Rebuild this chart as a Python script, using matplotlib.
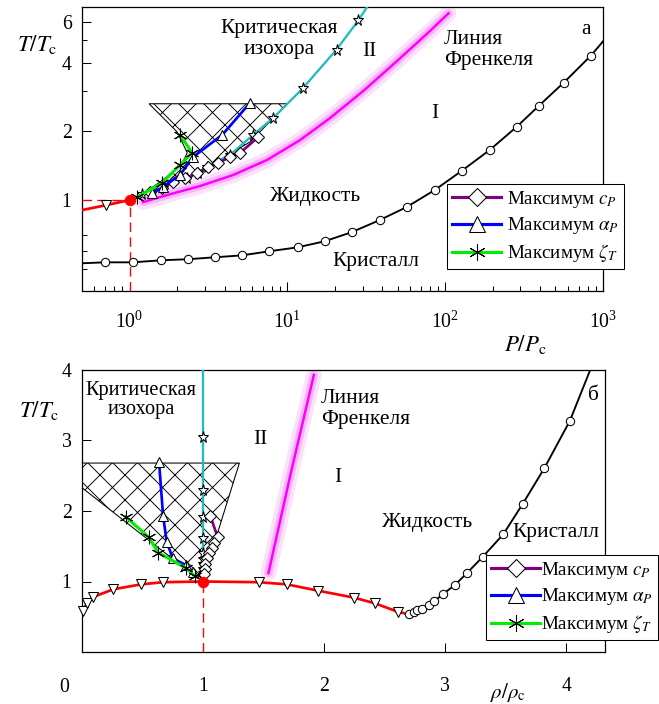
import matplotlib.pyplot as plt
from matplotlib.lines import Line2D
from matplotlib.patches import Polygon
from matplotlib.ticker import FixedLocator, NullFormatter, LogLocator, FixedFormatter

# ---------------------------------------------------------------
# (a) P-T plane, log-log
# melting line
P_melt = [0.5, 0.699, 1.05, 1.585, 2.35, 3.49, 5.18, 7.69, 11.6, 17.2, 25.5,
          38.4, 57.0, 85.8, 127, 192, 284, 393, 565, 839, 1000]
T_melt = [0.529, 0.534, 0.534, 0.545, 0.551, 0.562, 0.573, 0.597, 0.621, 0.660, 0.723,
          0.817, 0.932, 1.106, 1.341, 1.659, 2.093, 2.59, 3.27, 4.29, 4.95]
# boiling line up to the critical point
P_boil = [0.5, 0.71, 1.0]
T_boil = [0.904, 0.95, 1.0]
# critical isochore (stars)
P_iso = [1.0, 1.2, 1.63, 2.32, 2.7, 3.1, 4.35, 6.08, 8.15, 12.5, 20.5, 28.2, 32.0]
T_iso = [1.0, 1.06, 1.16, 1.25, 1.32, 1.40, 1.58, 1.93, 2.29, 3.08, 4.56, 6.12, 7.0]
# maxima of c_P, alpha_P, zeta_T
P_cp = [1.35, 1.61, 1.89, 2.25, 2.68, 3.15, 3.65, 4.35, 5.03, 6.55]
T_cp = [1.084, 1.129, 1.20, 1.25, 1.31, 1.40, 1.455, 1.545, 1.61, 1.89]
P_ap = [1.39, 1.63, 2.09, 2.53, 3.87, 5.82]
T_ap = [1.07, 1.14, 1.29, 1.545, 1.93, 2.67]
P_zt = [1.12, 1.61, 2.09, 2.49, 2.09]
T_zt = [1.03, 1.19, 1.425, 1.61, 1.93]
# Frenkel line
P_fr = [1.22, 1.73, 2.8, 4.54, 7.46, 12.1, 18.7, 30.4, 49.9, 80.9, 105]
T_fr = [0.98, 1.052, 1.152, 1.288, 1.50, 1.835, 2.29, 3.01, 4.08, 5.53, 6.57]
# hatched region
P_hatch = [1.33, 10.0, 5.82, 3.92, 2.68, 1.89, 1.35, 1.12, 1.25, 1.56, 1.89, 2.18, 2.32, 2.15, 2.0]
T_hatch = [2.64, 2.64, 1.80, 1.53, 1.31, 1.20, 1.08, 1.03, 1.08, 1.20, 1.33, 1.47, 1.61, 1.80, 1.99]

# ---------------------------------------------------------------
# (b) rho-T plane
rho_boil = [0.005, 0.04, 0.09, 0.26, 0.49, 0.67, 1.0, 1.46, 1.69, 1.95, 2.25, 2.42, 2.61, 2.66]
T_boil_b = [0.58, 0.69, 0.78, 0.89, 0.96, 0.99, 1.0, 0.99, 0.96, 0.87, 0.77, 0.69, 0.57, 0.55]
rho_melt = [2.70, 2.74, 2.77, 2.81, 2.87, 2.91, 2.98, 3.08, 3.18, 3.31, 3.48, 3.64, 3.82, 4.03, 4.20]
T_melt_b = [0.54, 0.57, 0.59, 0.61, 0.67, 0.72, 0.82, 0.95, 1.12, 1.35, 1.67, 2.10, 2.61, 3.28, 4.01]
rho_iso = [1.0, 1.0, 1.0, 1.0, 1.0, 1.0, 1.0, 1.0, 1.0, 1.0, 1.0, 1.0]
T_iso_b = [1.0, 1.06, 1.12, 1.18, 1.25, 1.32, 1.40, 1.62, 1.91, 2.30, 3.05, 4.0]
rho_cp = [1.06, 1.12, 1.09, 1.07, 1.05, 1.03, 1.02, 1.02, 1.01]
T_cp_b = [1.93, 1.63, 1.55, 1.48, 1.41, 1.33, 1.25, 1.18, 1.11]
rho_ap = [0.636, 0.67, 0.70, 0.75, 0.86, 0.92]
T_ap_b = [2.70, 1.93, 1.56, 1.33, 1.23, 1.13]
rho_zt = [0.36, 0.55, 0.63, 0.86, 0.93]
T_zt_b = [1.92, 1.63, 1.41, 1.19, 1.08]
rho_fr = [1.54, 1.725, 1.915]
T_fr_b = [1.12, 2.54, 3.93]
rho_hatch = [0.0, 1.30, 1.0, 0.95, 0.0]
T_hatch_b = [2.68, 2.68, 1.03, 1.05, 2.33]

RED = '#ff0000'
CYAN = '#22bcbc'
MAG = '#ff00ff'
PURPLE = '#800080'
BLUE = '#0000ff'
GREEN = '#00ee00'
ASTER = (6, 2, 0)

plt.rcParams['font.family'] = ['Liberation Serif', 'DejaVu Serif']
plt.rcParams['mathtext.fontset'] = 'stix'
plt.rcParams['hatch.linewidth'] = 0.9

W, H, DPI = 659, 704, 75
fig = plt.figure(figsize=(W / DPI, H / DPI), dpi=DPI)

FS = 20.5      # region labels
FS_TICK = 19
FS_AX = 22
FS_LEG = 18.3


def fx(x):
    return x / W


def fy(y):
    return 1 - y / H


open_mk = dict(mfc='white', mec='black', mew=1.0)

# ================= panel a =================
axA = fig.add_axes([fx(82), fy(291), fx(603) - fx(82), fy(7) - fy(291)])
axA.set_xscale('log')
axA.set_yscale('log')

axA.add_patch(Polygon(list(zip(P_hatch, T_hatch)), closed=True, facecolor='none',
                      edgecolor='black', hatch='x', lw=1.0, zorder=1))

axA.plot(P_fr, T_fr, color='#fde0fd', lw=15, solid_capstyle='round', zorder=2)
axA.plot(P_fr, T_fr, color='#f7b8f7', lw=8, solid_capstyle='round', zorder=2)
axA.plot(P_fr, T_fr, color=MAG, lw=2.4, zorder=3)

axA.plot([0.5, 1.0], [1.0, 1.0], color=RED, lw=1.3, ls=(0, (7, 4)), zorder=3)
axA.plot([1.0, 1.0], [0.4, 1.0], color=RED, lw=1.3, ls=(0, (7, 4)), zorder=3)
axA.plot(P_boil, T_boil, color=RED, lw=2.6, zorder=3)
axA.plot(P_boil[1:2], T_boil[1:2], 'v', ms=9, zorder=5, **open_mk)

axA.plot(P_melt, T_melt, color='black', lw=1.8, marker='o', ms=8,
         markevery=list(range(1, len(P_melt) - 1)), zorder=4, **open_mk)

axA.plot(P_iso, T_iso, color=CYAN, lw=2.2, marker='*', ms=11,
         markevery=list(range(1, len(P_iso) - 1)), zorder=4, **open_mk)
axA.plot(P_cp, T_cp, color=PURPLE, lw=2.6, marker='D', ms=7.5, zorder=5, **open_mk)
axA.plot(P_ap, T_ap, color=BLUE, lw=2.6, marker='^', ms=10, zorder=5, **open_mk)
axA.plot(P_zt, T_zt, color=GREEN, lw=3, marker=ASTER, ms=13, mec='black', mew=1.0, zorder=5)
axA.plot([1.0], [1.0], 'o', color=RED, ms=10, zorder=6)

axA.set_xlim(0.5, 1000)
axA.set_ylim(0.4, 7.0)
axA.xaxis.set_major_locator(LogLocator(base=10))
axA.xaxis.set_minor_locator(LogLocator(base=10, subs=range(2, 10)))
axA.xaxis.set_minor_formatter(NullFormatter())
axA.yaxis.set_major_locator(FixedLocator([1, 2, 4, 6]))
axA.yaxis.set_major_formatter(FixedFormatter(['1', '2', '4', '6']))
axA.yaxis.set_minor_locator(FixedLocator([0.5, 0.6, 0.7, 3, 5]))
axA.yaxis.set_minor_formatter(NullFormatter())
axA.tick_params(which='major', direction='in', length=8.5, width=1.0, labelsize=FS_TICK)
axA.tick_params(which='minor', direction='in', length=4.5, width=1.0)
axA.tick_params(axis='x', which='major', pad=20)
axA.tick_params(axis='y', which='major', pad=10)

fig.text(fx(37), fy(44), r'$T/T_{\mathrm{c}}$', fontsize=FS_AX, ha='center', va='center')
fig.text(fx(525), fy(344), r'$P/P_{\mathrm{c}}$', fontsize=FS_AX, ha='center', va='center')
fig.text(fx(279), fy(39), 'Критическая\nизохора', fontsize=FS, ha='center', va='center',
         linespacing=1.2)
fig.text(fx(369), fy(52), 'II', fontsize=FS, ha='center', va='center')
fig.text(fx(444), fy(50), 'Линия\nФренкеля', fontsize=FS, ha='left', va='center',
         linespacing=1.2)
fig.text(fx(586), fy(30), 'а', fontsize=FS, ha='center', va='center')
fig.text(fx(435), fy(113), 'I', fontsize=FS, ha='center', va='center')
fig.text(fx(315), fy(197), 'Жидкость', fontsize=FS, ha='center', va='center')
fig.text(fx(376), fy(262), 'Кристалл', fontsize=FS, ha='center', va='center')

# ================= panel b =================
axB = fig.add_axes([fx(82), fy(652), fx(605) - fx(82), fy(370) - fy(652)])

axB.add_patch(Polygon(list(zip(rho_hatch, T_hatch_b)), closed=True, facecolor='none',
                      edgecolor='black', hatch='x', lw=1.0, zorder=1))

axB.plot(rho_fr, T_fr_b, color='#fde0fd', lw=15, solid_capstyle='round', zorder=2)
axB.plot(rho_fr, T_fr_b, color='#f7b8f7', lw=8, solid_capstyle='round', zorder=2)
axB.plot(rho_fr, T_fr_b, color=MAG, lw=2.4, zorder=3)

axB.plot([1.0, 1.0], [0.0, 1.0], color=RED, lw=1.3, ls=(0, (7, 4)), zorder=3)
boil_idx = [i for i in range(len(rho_boil) - 1) if rho_boil[i] != 1.0]
axB.plot(rho_boil, T_boil_b, color=RED, lw=2.6, marker='v', ms=9, markevery=boil_idx,
         zorder=4, clip_on=False, **open_mk)
axB.plot(rho_melt, T_melt_b, color='black', lw=1.8, marker='o', ms=8,
         markevery=list(range(len(rho_melt) - 1)), zorder=4, **open_mk)

axB.plot(rho_iso, T_iso_b, color=CYAN, lw=2.2, marker='*', ms=11,
         markevery=list(range(1, len(rho_iso) - 1)), zorder=4, **open_mk)
axB.plot(rho_cp, T_cp_b, color=PURPLE, lw=2.6, marker='D', ms=7.5, zorder=5, **open_mk)
axB.plot(rho_ap, T_ap_b, color=BLUE, lw=2.6, marker='^', ms=10, zorder=5, **open_mk)
axB.plot(rho_zt, T_zt_b, color=GREEN, lw=3, marker=ASTER, ms=13, mec='black', mew=1.0, zorder=5)
axB.plot([1.0], [1.0], 'o', color=RED, ms=10, zorder=6, clip_on=False)

axB.set_xlim(0, 4.32)
axB.set_ylim(0, 4)
axB.set_xticks([1, 2, 3, 4])
axB.set_yticks([1, 2, 3, 4])
axB.tick_params(direction='in', length=9, width=1.0, labelsize=FS_TICK)
axB.tick_params(axis='x', pad=24)
axB.tick_params(axis='y', pad=10)

fig.text(fx(64), fy(688), '0', fontsize=FS_TICK, ha='center', va='center')
fig.text(fx(39), fy(410), r'$T/T_{\mathrm{c}}$', fontsize=FS_AX, ha='center', va='center')
fig.text(fx(508), fy(704), r'$\rho/\rho_{\mathrm{c}}$', fontsize=FS_AX - 2, ha='center',
         va='bottom')
fig.text(fx(141), fy(400), 'Критическая\nизохора', fontsize=FS - 1, ha='center', va='center',
         linespacing=0.95)
fig.text(fx(260), fy(440), 'II', fontsize=FS, ha='center', va='center')
fig.text(fx(321), fy(409), 'Линия\nФренкеля', fontsize=FS, ha='left', va='center',
         linespacing=1.2)
fig.text(fx(593), fy(396), 'б', fontsize=FS, ha='center', va='center')
fig.text(fx(338), fy(478), 'I', fontsize=FS, ha='center', va='center')
fig.text(fx(428), fy(522), 'Жидкость', fontsize=FS, ha='center', va='center')
fig.text(fx(556), fy(532), 'Кристалл', fontsize=FS, ha='center', va='center')

for ax in (axA, axB):
    for s in ax.spines.values():
        s.set_linewidth(1.2)

# legends
handles = [
    Line2D([], [], color=PURPLE, lw=3, marker='D', ms=12, **open_mk),
    Line2D([], [], color=BLUE, lw=3, marker='^', ms=15, **open_mk),
    Line2D([], [], color=GREEN, lw=3, marker=ASTER, ms=16, mec='black', mew=1.0),
]
labels = [r'Максимум $c_P$', r'Максимум $\alpha_P$', r'Максимум $\zeta_T$']
for ax, (lx, ly), tpad in ((axA, (447, 184), 0.3), (axB, (486, 555), 0.05)):
    leg = ax.legend(handles, labels, loc='upper left', bbox_to_anchor=(fx(lx), fy(ly)),
                    bbox_transform=fig.transFigure, fancybox=False, framealpha=1,
                    edgecolor='black', borderaxespad=0, handlelength=2.6,
                    handletextpad=tpad, labelspacing=0.3, borderpad=0.25, fontsize=FS_LEG)
    leg.get_frame().set_linewidth(1.0)
    leg.set_zorder(10)

fig.savefig('out.png', dpi=DPI)
